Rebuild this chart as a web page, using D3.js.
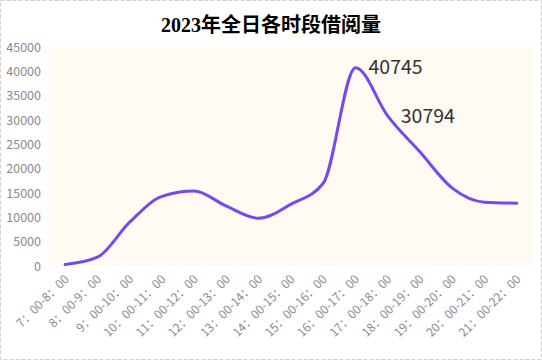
<!DOCTYPE html>
<html>
<head>
<meta charset="utf-8">
<script src="https://cdn.jsdelivr.net/npm/d3@7"></script>
<style>
  html, body { margin: 0; padding: 0; background: #fff; }
  svg { display: block; }
</style>
</head>
<body>
<svg id="chart"></svg>
<script>
// hourly slots and borrow counts
const slots = ["7：00-8：00", "8：00-9：00", "9：00-10：00", "10：00-11：00", "11：00-12：00",
    "12：00-13：00", "13：00-14：00", "14：00-15：00", "15：00-16：00", "16：00-17：00",
    "17：00-18：00", "18：00-19：00", "19：00-20：00", "20：00-21：00", "21：00-22：00"];
const counts = [300, 1800, 9000, 14300, 15400, 12300, 9800, 12700, 17000, 40745, 30794, 23400, 16000, 13100, 12900];
const labelled = ["16：00-17：00", "17：00-18：00"];
const yTicks = [0, 5000, 10000, 15000, 20000, 25000, 30000, 35000, 40000, 45000];

const width = 542, height = 360;
const margin = {top: 47, right: 9, bottom: 94, left: 49};

const svg = d3.select("#chart")
    .attr("width", width)
    .attr("height", height);

// dashed frame round the whole chart
svg.append("rect")
    .attr("x", 0.5).attr("y", 0.5)
    .attr("width", width - 1).attr("height", height - 1)
    .attr("fill", "none")
    .attr("stroke", "#d0d0d0")
    .attr("stroke-dasharray", "4,2");

const x = d3.scalePoint()
    .domain(slots)
    .range([margin.left, width - margin.right])
    .padding(0.5);

const y = d3.scaleLinear()
    .domain([0, 45000])
    .range([height - margin.bottom, margin.top]);

svg.append("rect")
    .attr("x", margin.left)
    .attr("y", margin.top)
    .attr("width", width - margin.left - margin.right)
    .attr("height", height - margin.top - margin.bottom)
    .attr("fill", "#fffbf3");

svg.append("text")
    .attr("x", width / 2)
    .attr("y", 32)
    .attr("text-anchor", "middle")
    .style("font-family", "'Liberation Serif', 'Noto Sans CJK SC', serif")
    .style("font-size", "20px")
    .style("font-weight", "bold")
    .attr("fill", "#000")
    .text("2023年全日各时段借阅量");

const yAxis = svg.append("g")
    .attr("transform", `translate(${margin.left},0)`)
    .call(d3.axisLeft(y).tickValues(yTicks).tickFormat(d3.format("d")).tickSize(0).tickPadding(8));
yAxis.select(".domain").remove();
yAxis.selectAll("text")
    .style("font-family", "'Noto Sans CJK SC', 'DejaVu Sans', sans-serif")
    .style("font-size", "12.5px")
    .attr("fill", "#8a8a8a");

const xAxis = svg.append("g")
    .attr("transform", `translate(0,${height - margin.bottom})`)
    .call(d3.axisBottom(x).tickSize(0).tickPadding(0));
xAxis.select(".domain").remove();
xAxis.selectAll("text")
    .style("font-family", "'Noto Sans CJK SC', 'DejaVu Sans', sans-serif")
    .style("font-size", "12px")
    .attr("fill", "#8a8a8a")
    .attr("text-anchor", "end")
    .attr("dy", null)
    .attr("y", 0)
    .attr("transform", "translate(4,14) rotate(-45)");

const line = d3.line()
    .x((d, i) => x(slots[i]))
    .y(d => y(d))
    .curve(d3.curveMonotoneX);

svg.append("path")
    .datum(counts)
    .attr("d", line)
    .attr("fill", "none")
    .attr("stroke", "#7649ee")
    .attr("stroke-width", 3)
    .attr("stroke-linecap", "round");

svg.append("g")
    .selectAll("text")
    .data(slots.filter(s => labelled.includes(s)))
    .join("text")
    .attr("x", d => x(d) + 13)
    .attr("y", d => y(counts[slots.indexOf(d)]))
    .attr("dy", "0.33em")
    .style("font-family", "'Noto Sans CJK SC', 'DejaVu Sans', sans-serif")
    .style("font-size", "19.5px")
    .attr("fill", "#333")
    .text(d => counts[slots.indexOf(d)]);
</script>
</body>
</html>
